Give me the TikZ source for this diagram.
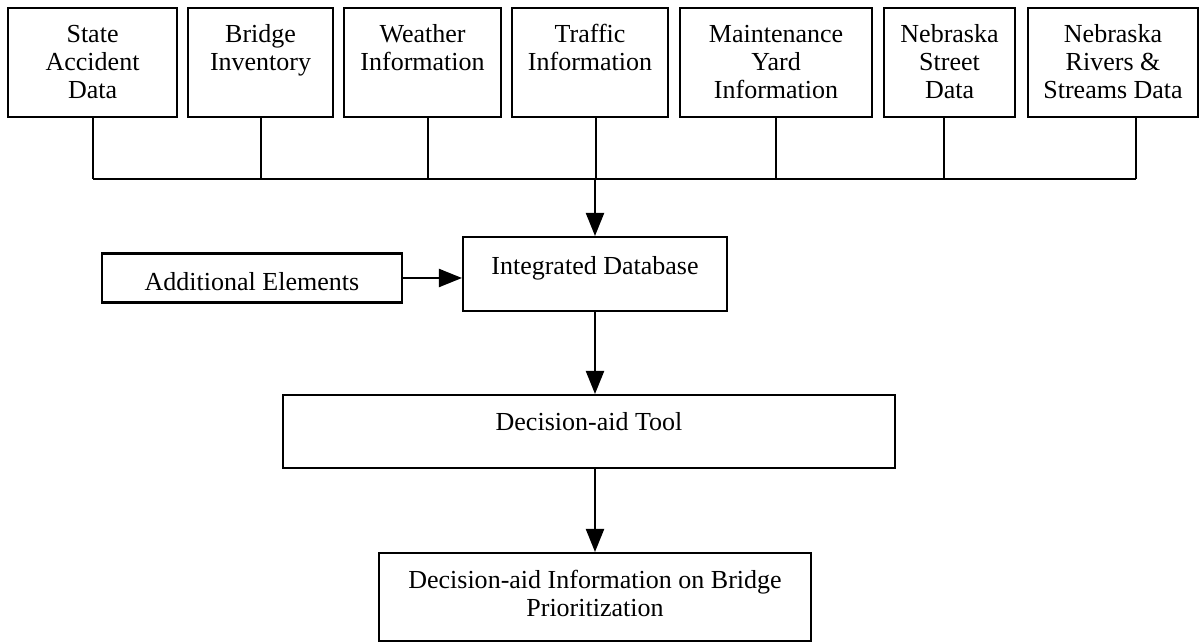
\documentclass[tikz,border=0pt]{standalone}
\usepackage{fontspec}
\setmainfont{Liberation Serif}
\usetikzlibrary{arrows.meta,positioning}

\tikzset{
  box/.style={draw, line width=1.2pt, inner sep=0pt, align=center, font=\fontsize{14.8pt}{15.9pt}\selectfont},
  quelle/.style={box, anchor=north west, text height=1.80cm, text depth=0.38cm},
  quellezwei/.style={box, anchor=north west, text height=1.24cm, text depth=0.94cm},
  linie/.style={line width=1.2pt},
  pfeil/.style={-{Triangle[width=3.6mm,length=4.6mm]}, line width=1.2pt},
}

\begin{document}
\begin{tikzpicture}
        \useasboundingbox (0,0) rectangle (23.98,12.84);

        % Datenquellen
        \node[quelle, minimum width=3.38cm] (accident) at (0.14,12.70) {State\\Accident\\Data};
        \node[quellezwei, minimum width=2.90cm] (inventory) at (3.74,12.70) {Bridge\\Inventory};
        \node[quellezwei, minimum width=3.14cm] (weather) at (6.86,12.70) {Weather\\Information};
        \node[quellezwei, minimum width=3.12cm] (traffic) at (10.22,12.70) {Traffic\\Information};
        \node[quelle, minimum width=3.84cm] (yard) at (13.58,12.70) {Maintenance\\Yard\\Information};
        \node[quelle, minimum width=2.62cm] (street) at (17.66,12.70) {Nebraska\\Street\\Data};
        \node[quelle, minimum width=3.40cm] (rivers) at (20.54,12.70) {Nebraska\\Rivers \&\\Streams Data};

        % Sammelleitung
        \coordinate (bus) at (11.90,9.26);
        \foreach \n/\dx in {accident/0, inventory/0, weather/0.11, traffic/0.12, yard/0, street/-0.11, rivers/0.46}
            \draw[linie] ([xshift=\dx cm]\n.south) -- ([xshift=\dx cm]\n.south |- bus);
        \draw[linie] (accident.south |- bus) -- ([xshift=0.46cm]rivers.south |- bus);

        % Kästchen
        \node[box, minimum width=5.28cm, text height=0.74cm, text depth=0.74cm, anchor=north] (database) at (11.90,8.12) {Integrated Database};
        \node[box, minimum width=6.00cm, text height=0.74cm, text depth=0.24cm, anchor=east] (additional) at (8.06,7.28) {Additional Elements};
        \node[box, minimum width=12.24cm, text height=0.70cm, text depth=0.76cm, anchor=north] (tool) at (11.78,4.96) {Decision-aid Tool};
        \node[box, minimum width=8.64cm, text height=1.26cm, text depth=0.50cm, anchor=north] (info) at (11.90,1.80) {Decision-aid Information on Bridge\\Prioritization};

        % Pfeile
        \draw[pfeil] (bus) -- (database.north);
        \draw[pfeil] (additional.east) -- (additional.east -| database.west);
        \draw[pfeil] (database.south) -- (database.south |- tool.north);
        \draw[pfeil] (database.south |- tool.south) -- (info.north);

    \end{tikzpicture}
\end{document}
